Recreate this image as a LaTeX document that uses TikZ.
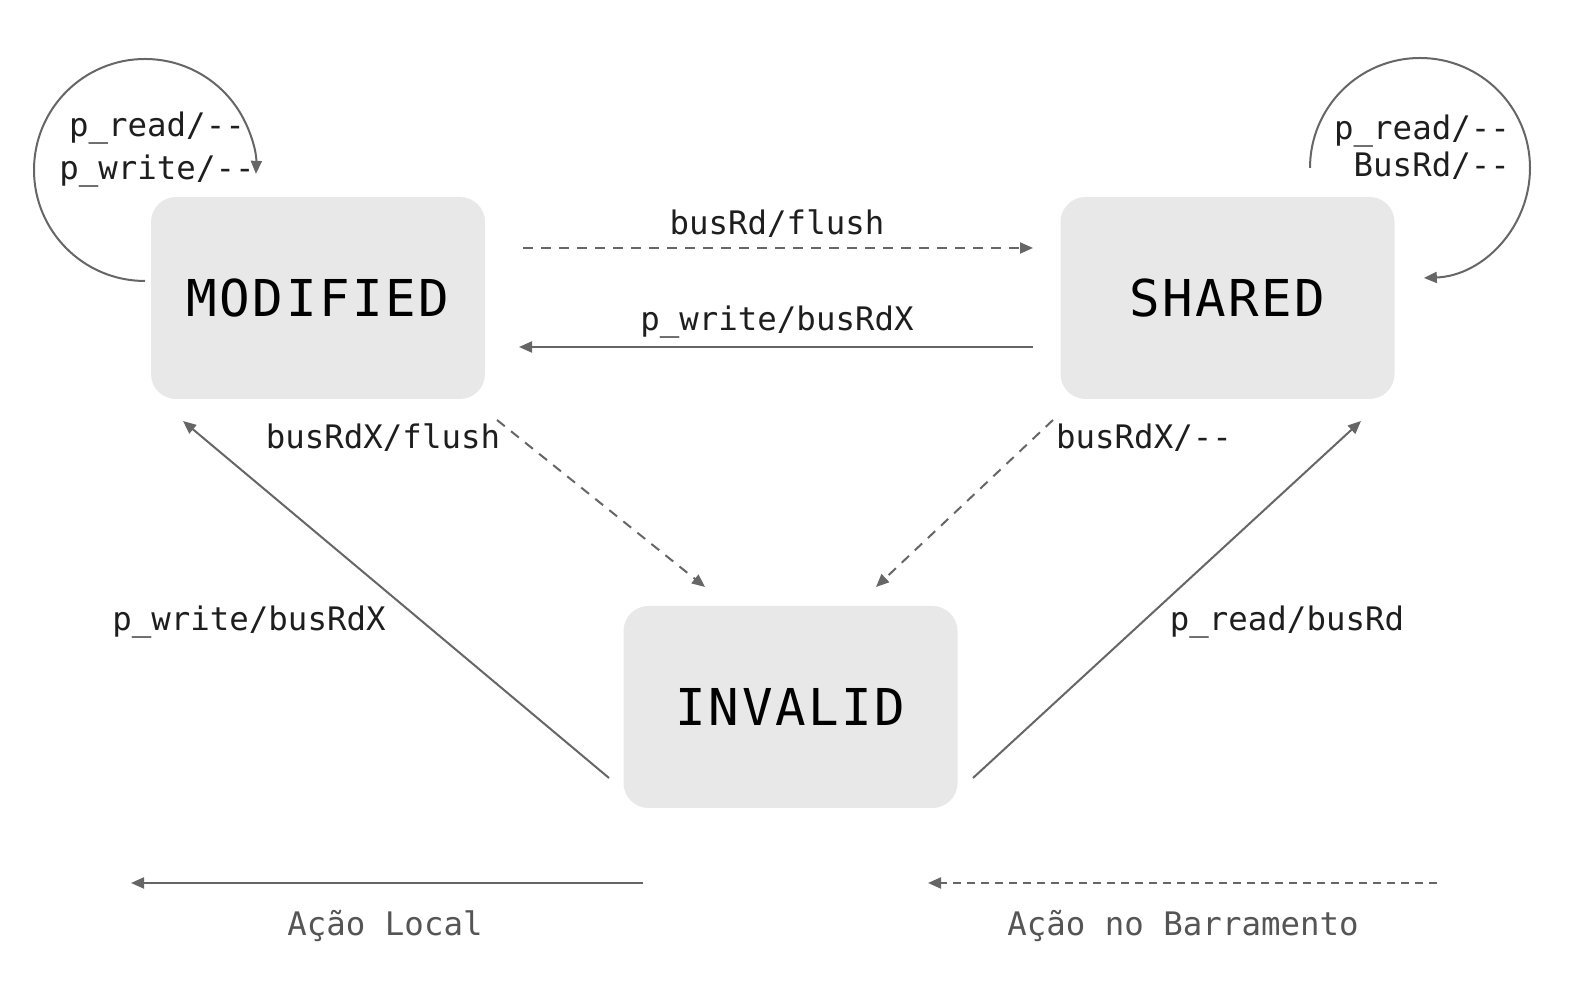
\documentclass[tikz,border=0pt]{standalone}
\usepackage{fontspec}
\usetikzlibrary{arrows.meta}
\newfontfamily\lblfont{DejaVu Sans Mono}
\newfontfamily\statefont[LetterSpace=5]{DejaVu Sans Mono}
\definecolor{boxgray}{HTML}{E8E8E8}
\definecolor{linegray}{HTML}{666666}
\definecolor{txtdark}{HTML}{1E1E1E}
\definecolor{legtxt}{HTML}{555555}
\tikzset{
  statebox/.style={rectangle, rounded corners=12.5pt, fill=boxgray, draw=none,
    minimum width=167pt, minimum height=101pt, inner sep=0pt,
    font=\statefont\fontsize{25.4}{30}\selectfont, text=black},
  lbl/.style={font=\lblfont\fontsize{16.2}{21.5}\selectfont, text=txtdark, inner sep=0pt},
  leglbl/.style={font=\lblfont\fontsize{16.2}{21.5}\selectfont, text=legtxt, inner sep=0pt},
  conn/.style={draw=linegray, line width=1pt, -{Triangle[length=6.5pt,width=5.5pt]}},
  busconn/.style={conn, dash pattern=on 5pt off 4pt},
}
\begin{document}
\begin{tikzpicture}[x=0.5pt,y=0.5pt]
\useasboundingbox (0,0) rectangle (1576,990);
% states
\node[statebox] (M) at (318,692) {MODIFIED};
\node[statebox] (S) at (1227.5,692) {SHARED};
\node[statebox] (I) at (790.5,283) {INVALID};
% connector end points
\coordinate (mr1) at (523,742);  \coordinate (sl1) at (1033,742);
\coordinate (sl2) at (1033,643); \coordinate (mr2) at (519,643);
\coordinate (mb1) at (497,570);  \coordinate (it1) at (705,403);
\coordinate (sb1) at (1053,570); \coordinate (it2) at (876,403);
\coordinate (il) at (609,212);   \coordinate (mb2) at (183,569);
\coordinate (ir) at (973,212);   \coordinate (sb2) at (1361,569);
\coordinate (mloop) at (145,709);
\coordinate (sloop) at (1310,822);
\coordinate (lg1a) at (643,107); \coordinate (lg1b) at (131,107);
\coordinate (lg2a) at (1437,107); \coordinate (lg2b) at (928,107);
% connectors
\draw[busconn] (mr1) -- (sl1);
\draw[conn] (sl2) -- (mr2);
\draw[busconn] (mb1) -- (it1);
\draw[busconn] (sb1) -- (it2);
\draw[conn] (il) -- (mb2);
\draw[conn] (ir) -- (sb2);
\draw[conn] (mloop) arc[start angle=270, end angle=-2, radius=55.5pt];
\draw[conn] (sloop) arc[start angle=180, end angle=-88, radius=55pt];
% labels
\node[lbl] (l1) at (777,766) {busRd/flush};
\node[lbl] (l2) at (777,668) {p\_write/busRdX};
\node[lbl] (l3) at (383,552) {busRdX/flush};
\node[lbl] (l4) at (1144,552) {busRdX/--};
\node[lbl] (l5) at (249,368) {p\_write/busRdX};
\node[lbl] (l6) at (1287,368) {p\_read/busRd};
\node[lbl, align=center] (l7) at (157,840) {p\_read/--\\p\_write/--};
\node[lbl, align=center, font=\lblfont\fontsize{16.2}{18.5}\selectfont] (l8) at (1422,843) {p\_read/--\\\ BusRd/--};
% legend
\draw[conn] (lg1a) -- (lg1b);
\draw[busconn, dash pattern=on 4pt off 3pt] (lg2a) -- (lg2b);
\node[leglbl] (g1) at (385,64) {Ação Local};
\node[leglbl] (g2) at (1183,64) {Ação no Barramento};
\end{tikzpicture}
\end{document}
